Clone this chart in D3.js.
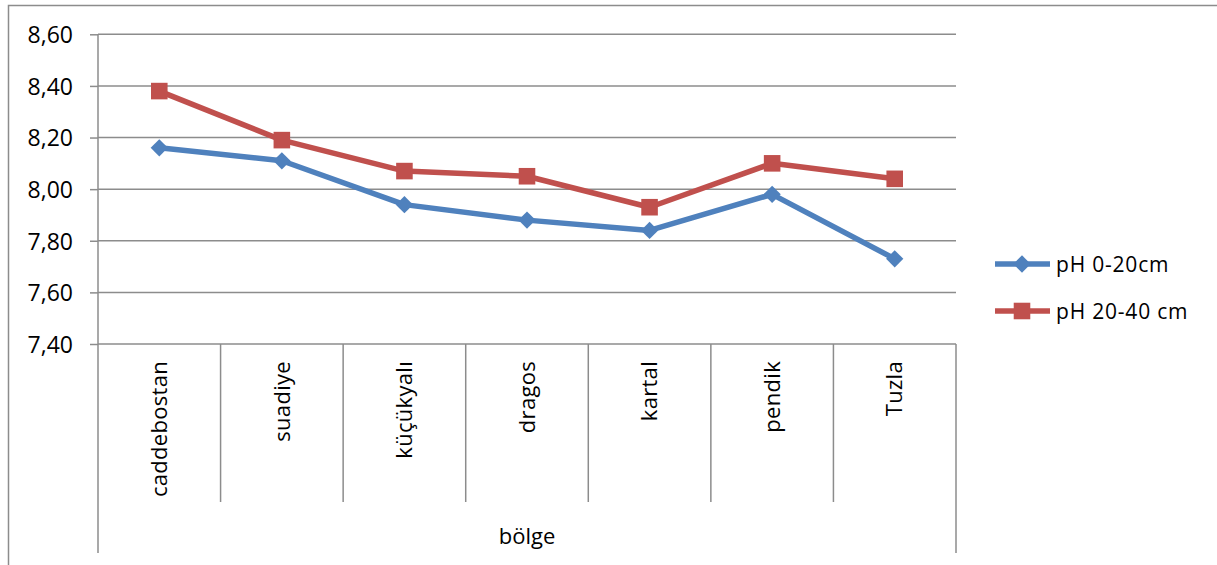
<!DOCTYPE html>
<html>
<head>
<meta charset="utf-8">
<script src="https://cdn.jsdelivr.net/npm/d3@7"></script>
<style>
  html, body { margin: 0; padding: 0; background: #fff; }
  svg { display: block; }
  text { font-family: "Open Sans", sans-serif; fill: #000; }
</style>
</head>
<body>
<svg id="chart" width="1217" height="565"></svg>
<script>
// Soil pH by district, two sampling depths
const categories = ["caddebostan", "suadiye", "küçükyalı", "dragos", "kartal", "pendik", "Tuzla"];
const ph0to20 = [8.16, 8.11, 7.94, 7.88, 7.84, 7.98, 7.73];
const ph20to40 = [8.38, 8.19, 8.07, 8.05, 7.93, 8.10, 8.04];
const seriesNames = ["pH 0-20cm", "pH 20-40 cm"];
const yTicks = [7.40, 7.60, 7.80, 8.00, 8.20, 8.40, 8.60];
const axisTitle = "bölge";

const colors = ["#4F81BD", "#C0504D"];
const gridColor = "#8c8c8c";

const svg = d3.select("#chart");

// outer chart frame
svg.append("rect")
  .attr("x", 8.5).attr("y", 5.5)
  .attr("width", 1300).attr("height", 700)
  .attr("fill", "none").attr("stroke", gridColor).attr("stroke-width", 1.5);

const plot = { left: 98, right: 956, top: 34.3, bottom: 344 };

const x = d3.scaleBand().domain(categories).range([plot.left, plot.right]);
const y = d3.scaleLinear().domain([7.4, 8.6]).range([plot.bottom, plot.top]);

// horizontal gridlines with left tick stubs
const yAxis = d3.axisLeft(y)
  .tickValues(yTicks)
  .tickSize(8)
  .tickFormat(d => d3.format(".2f")(d).replace(".", ","));

const yg = svg.append("g").attr("transform", `translate(${plot.left},0)`).call(yAxis);
yg.select(".domain").remove();
yg.selectAll(".tick line").attr("stroke", gridColor).attr("stroke-width", 1.5);
yg.selectAll(".tick text")
  .attr("x", -25)
  .attr("dy", "0.36em")
  .style("font-size", "23px")
  .style("font-family", "'Open Sans', sans-serif")
  .attr("fill", "#000");

svg.append("g").selectAll("line")
  .data(yTicks)
  .join("line")
  .attr("x1", plot.left).attr("x2", plot.right)
  .attr("y1", d => y(d)).attr("y2", d => y(d))
  .attr("stroke", gridColor).attr("stroke-width", 1.5);

// left and right axis lines down to the axis-title row
svg.append("line")
  .attr("x1", plot.left).attr("x2", plot.left)
  .attr("y1", plot.top).attr("y2", 553)
  .attr("stroke", gridColor).attr("stroke-width", 1.5);
svg.append("line")
  .attr("x1", plot.right).attr("x2", plot.right)
  .attr("y1", plot.bottom).attr("y2", 553)
  .attr("stroke", gridColor).attr("stroke-width", 1.5);

// category dividers
const dividers = categories.slice(1).map(c => x(c));
svg.append("g").selectAll("line")
  .data(dividers)
  .join("line")
  .attr("x1", d => d).attr("x2", d => d)
  .attr("y1", plot.bottom).attr("y2", 502)
  .attr("stroke", gridColor).attr("stroke-width", 1.5);

// rotated category labels
const cx = c => x(c) + x.bandwidth() / 2;
svg.append("g").selectAll("text")
  .data(categories)
  .join("text")
  .attr("transform", d => `translate(${cx(d)},361) rotate(-90)`)
  .attr("text-anchor", "end")
  .attr("dy", "0.35em")
  .style("font-size", "22px")
  .style("letter-spacing", "0.3px")
  .text(d => d);

svg.append("text")
  .attr("x", (plot.left + plot.right) / 2)
  .attr("y", 544)
  .attr("text-anchor", "middle")
  .style("font-size", "22px")
  .text(axisTitle);

// series
const series = [ph0to20, ph20to40];
const line = d3.line().x((d, i) => cx(categories[i])).y(d => y(d));

const diamond = d3.symbol().type(d3.symbolDiamond2).size(190);
const square = d3.symbol().type(d3.symbolSquare2).size(350);
const markers = [diamond, square];

series.forEach((vals, si) => {
  svg.append("path")
    .datum(vals)
    .attr("d", line)
    .attr("fill", "none")
    .attr("stroke", colors[si])
    .attr("stroke-width", 5.5)
    .attr("stroke-linejoin", "round");
});
series.forEach((vals, si) => {
  svg.append("g").selectAll("path")
    .data(vals)
    .join("path")
    .attr("transform", (d, i) => `translate(${cx(categories[i])},${y(d)})`)
    .attr("d", markers[si]())
    .attr("fill", colors[si]);
});

// legend
const legendY = [264, 311];
seriesNames.forEach((name, si) => {
  const g = svg.append("g").attr("transform", `translate(0,${legendY[si]})`);
  g.append("line")
    .attr("x1", 995).attr("x2", 1050)
    .attr("y1", 0).attr("y2", 0)
    .attr("stroke", colors[si]).attr("stroke-width", 5.5);
  g.append("path")
    .attr("transform", "translate(1022,0)")
    .attr("d", markers[si]())
    .attr("fill", colors[si]);
  g.append("text")
    .attr("x", 1056)
    .attr("dy", "0.36em")
    .style("font-size", "21px")
    .style("letter-spacing", "0.8px")
    .text(name);
});
</script>
</body>
</html>
